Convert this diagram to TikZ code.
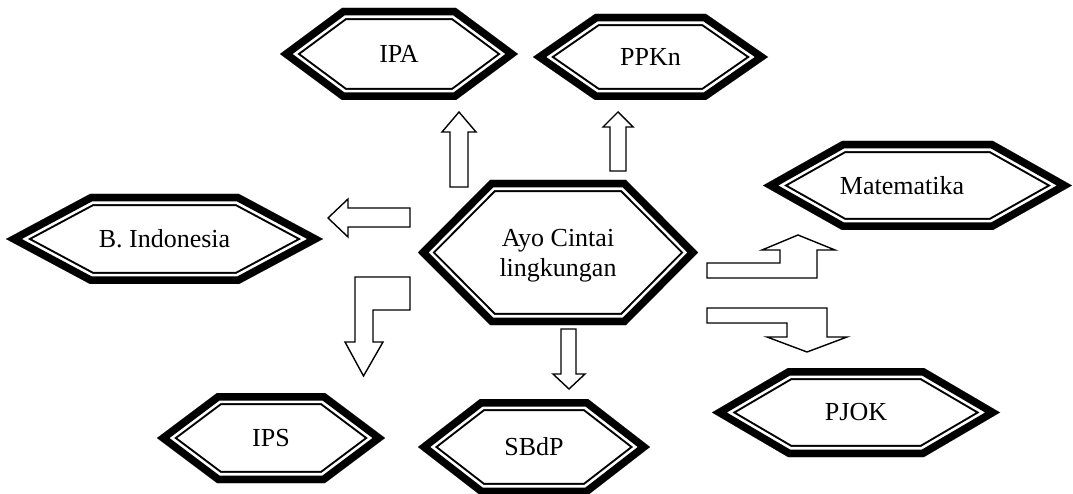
\documentclass[tikz,border=0pt]{standalone}
\usepackage{fontspec}
\setmainfont{Liberation Serif}
\newcommand{\hexoutline}[5]{% cx, cy, half width, half height, corner inset
  \def\hexpath{({#1-#3},{#2}) -- ({#1-#3+#5},{#2-#4}) -- ({#1+#3-#5},{#2-#4}) -- ({#1+#3},{#2}) -- ({#1+#3-#5},{#2+#4}) -- ({#1-#3+#5},{#2+#4}) -- cycle}%
  \begin{scope}
    \clip \hexpath;
    \fill[white] \hexpath;
    \draw[black, line width=24.4pt] \hexpath;
    \draw[white, line width=20.4pt] \hexpath;
    \draw[black, line width=15pt] \hexpath;
  \end{scope}}
\tikzset{
  label/.style={font=\fontsize{26}{30}\selectfont, align=center, inner sep=0pt},
  blockarrow/.style={draw=black, fill=white, line width=1.4pt, line join=miter}
}
\begin{document}
\begin{tikzpicture}[x=1pt, y=-1pt]
\useasboundingbox (0,0) rectangle (1073,494);
% hexagons
\hexoutline{399}{54}{119}{46}{62}
\hexoutline{650.5}{57}{117.5}{43}{62}
\hexoutline{917.5}{185.5}{154.5}{44.5}{79}
\hexoutline{856}{412.5}{144}{44.5}{76}
\hexoutline{271}{438}{114}{45}{60}
\hexoutline{534}{447}{116}{48}{62}
\hexoutline{164.5}{239}{158.5}{45}{84}
\hexoutline{558}{252.5}{140}{72.5}{72}
% labels
\node[label] (ipa) at (399,54) {IPA};
\node[label] (ppkn) at (650.5,57) {PPKn};
\node[label] (mtk) at (902,185.5) {Matematika};
\node[label] (pjok) at (856,412.5) {PJOK};
\node[label] (ips) at (271,438) {IPS};
\node[label] (sbdp) at (534,447) {SBdP};
\node[label] (bind) at (164.5,239) {B. Indonesia};
\node[label] (main) at (558,256) {Ayo Cintai\\lingkungan};
% block arrows
\draw[blockarrow] (450,187) -- (450,132) -- (442,132) -- (459,112) -- (476,132) -- (468,132) -- (468,187) -- cycle;
\draw[blockarrow] (610,171) -- (610,127) -- (603,127) -- (618,112) -- (633,127) -- (626,127) -- (626,171) -- cycle;
\draw[blockarrow] (410,208) -- (348,208) -- (348,199) -- (328,218) -- (348,237) -- (348,227) -- (410,227) -- cycle;
\draw[blockarrow] (355,277) -- (410,277) -- (410,310) -- (373,310) -- (373,342) -- (383,342) -- (363.5,376) -- (345,342) -- (355,342) -- cycle;
\draw[blockarrow] (561,329) -- (576,329) -- (576,374) -- (585,374) -- (569,389) -- (553,374) -- (561,374) -- cycle;
\draw[blockarrow] (707,278) -- (707,263) -- (780,263) -- (780,250) -- (762,250) -- (798,235) -- (835,250) -- (817,250) -- (817,278) -- cycle;
\draw[blockarrow] (707,308) -- (827,308) -- (827,337) -- (847,337) -- (807,352) -- (767,337) -- (787,337) -- (787,323) -- (707,323) -- cycle;
\end{tikzpicture}
\end{document}
